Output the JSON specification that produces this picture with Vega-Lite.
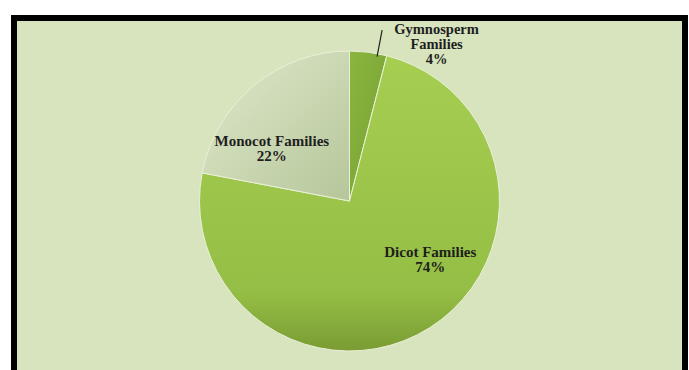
{
  "$schema": "https://vega.github.io/schema/vega-lite/v6.json",
  "width": 671,
  "height": 366,
  "padding": {"left": 14, "top": 18, "right": 4, "bottom": 0},
  "autosize": {"type": "none"},
  "background": "white",
  "config": {"view": {"stroke": null}},
  "datasets": {
    "shares": [
      {"family": "Gymnosperm Families", "pct": 4, "order": 1, "label": "Gymnosperm\nFamilies\n4%"},
      {"family": "Dicot Families", "pct": 74, "order": 2, "label": "Dicot Families\n74%"},
      {"family": "Monocot Families", "pct": 22, "order": 3, "label": "Monocot Families\n22%"}
    ],
    "leader": [{"family": "Gymnosperm Families", "at": 3.0}],
    "panel": [{"panel": "chart area"}]
  },
  "data": {"name": "shares"},
  "layer": [
    {
      "data": {"name": "panel"},
      "mark": {"type": "rect", "fill": "#d8e4bd", "stroke": "#000000", "strokeWidth": 6},
      "encoding": {}
    },
    {
      "mark": {"type": "arc", "radius": 150, "stroke": "#e9f1da", "strokeWidth": 1},
      "encoding": {
        "theta": {"field": "pct", "type": "quantitative", "stack": true},
        "order": {"field": "order", "type": "quantitative"},
        "fill": {
          "condition": [
            {"test": "datum.family === 'Gymnosperm Families'", "value": {"gradient": "linear", "x1": 0, "y1": 0, "x2": 1, "y2": 1, "stops": [{"offset": 0, "color": "#8ab63e"}, {"offset": 1, "color": "#76a035"}]}},
            {"test": "datum.family === 'Monocot Families'", "value": {"gradient": "linear", "x1": 0, "y1": 0, "x2": 1, "y2": 1, "stops": [{"offset": 0, "color": "#dfe9cc"}, {"offset": 1, "color": "#b6c69a"}]}}
          ],
          "value": {"gradient": "linear", "x1": 0, "y1": 0, "x2": 0, "y2": 1, "stops": [{"offset": 0, "color": "#a6ce51"}, {"offset": 0.8, "color": "#94be45"}, {"offset": 1, "color": "#7a9c33"}]}
        }
      }
    },
    {
      "mark": {"type": "text", "radius": 168, "dx": 66, "dy": -4, "font": "Liberation Serif", "fontWeight": "bold", "fontSize": 14.5, "lineBreak": "\n", "lineHeight": 15, "color": "#1e1e1e", "align": "center", "baseline": "middle"},
      "encoding": {
        "theta": {"field": "pct", "type": "quantitative", "stack": true},
        "order": {"field": "order", "type": "quantitative"},
        "text": {"condition": {"test": "datum.family === 'Gymnosperm Families'", "field": "label"}, "value": ""}
      }
    },
    {
      "mark": {"type": "text", "radius": 92, "dx": -19, "dy": 10.5, "font": "Liberation Serif", "fontWeight": "bold", "fontSize": 15, "lineBreak": "\n", "lineHeight": 15.5, "color": "#1e1e1e", "align": "center", "baseline": "middle"},
      "encoding": {
        "theta": {"field": "pct", "type": "quantitative", "stack": true},
        "order": {"field": "order", "type": "quantitative"},
        "text": {"condition": {"test": "datum.family === 'Monocot Families'", "field": "label"}, "value": ""}
      }
    },
    {
      "mark": {"type": "text", "radius": 106, "dx": 24, "dy": -38.5, "font": "Liberation Serif", "fontWeight": "bold", "fontSize": 15, "lineBreak": "\n", "lineHeight": 15.5, "color": "#1e1e1e", "align": "center", "baseline": "middle"},
      "encoding": {
        "theta": {"field": "pct", "type": "quantitative", "stack": true},
        "order": {"field": "order", "type": "quantitative"},
        "text": {"condition": {"test": "datum.family === 'Dicot Families'", "field": "label"}, "value": ""}
      }
    },
    {
      "data": {"name": "leader"},
      "mark": {"type": "arc", "radius": 174, "radius2": 147, "stroke": "#222222", "strokeWidth": 1.2, "fill": null},
      "encoding": {
        "theta": {"field": "at", "type": "quantitative"},
        "theta2": {"field": "at"}
      }
    }
  ]
}
